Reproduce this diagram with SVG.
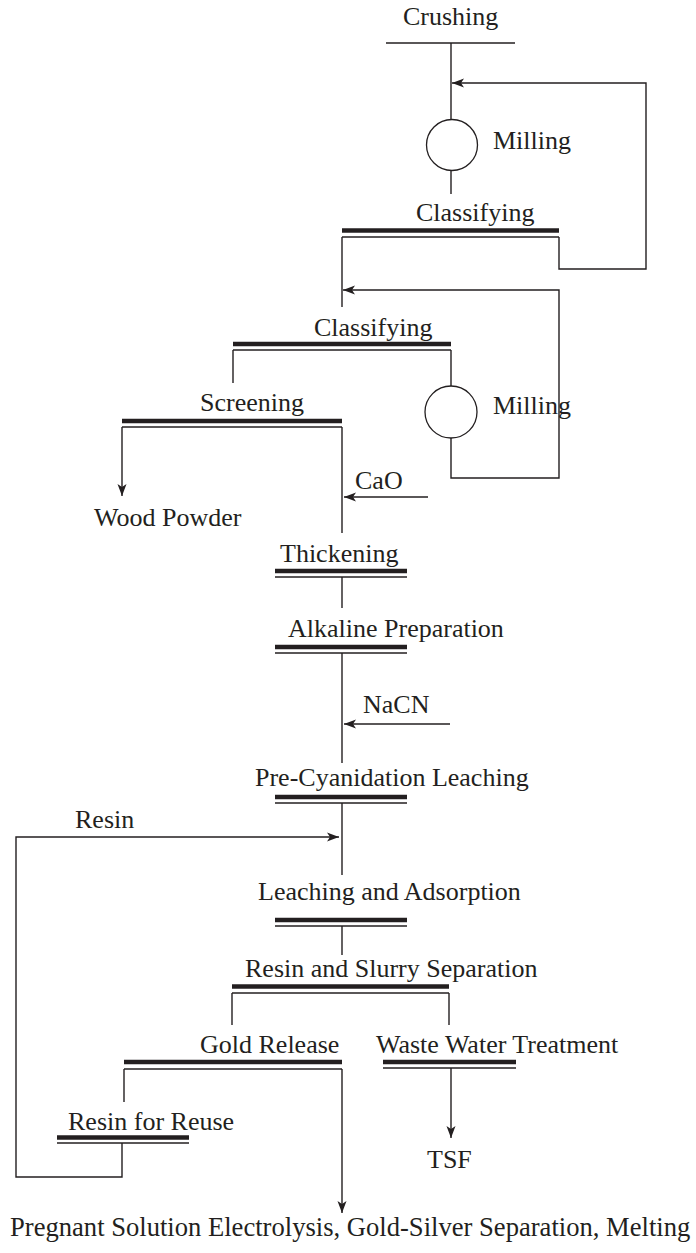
<svg xmlns="http://www.w3.org/2000/svg" width="696" height="1253" viewBox="0 0 696 1253">
<style>
text{font-family:"Liberation Serif","Times New Roman",serif;font-size:26px;fill:#231f20}
.thick{stroke:#231f20;stroke-width:4.5;fill:none}
.thin{stroke:#231f20;stroke-width:1.3;fill:none}
.ln{stroke:#231f20;stroke-width:1.4;fill:none}
.arr{marker-end:url(#ah)}
circle{fill:#fff;stroke:#231f20;stroke-width:1.3}
</style>
<defs>
<marker id="ah" markerUnits="userSpaceOnUse" markerWidth="13" markerHeight="11" refX="12" refY="5.5" orient="auto">
<path d="M0,1 L12,5.5 L0,10 L3,5.5 Z" fill="#231f20"/>
</marker>
</defs>
<rect width="696" height="1253" fill="#fff"/>
<g id="connectors">
<line class="ln" x1="451" y1="43" x2="451" y2="120"/>
<line class="ln" x1="451" y1="171" x2="451" y2="194"/>
<polyline class="ln arr" points="559,237 559,269 646,269 646,83 452,83"/>
<line class="ln" x1="342" y1="237" x2="342" y2="307"/>
<polyline class="ln" points="451,350 451,386"/>
<polyline class="ln arr" points="451,438 451,478 559,478 559,290 343,290"/>
<line class="ln" x1="233" y1="350" x2="233" y2="383"/>
<line class="ln arr" x1="122" y1="427" x2="122" y2="496"/>
<line class="ln" x1="342" y1="427" x2="342" y2="533"/>
<line class="ln arr" x1="428" y1="497" x2="344" y2="497"/>
<line class="ln" x1="342" y1="577" x2="342" y2="608"/>
<line class="ln" x1="342" y1="653" x2="342" y2="763"/>
<line class="ln arr" x1="450" y1="724" x2="344" y2="724"/>
<line class="ln" x1="342" y1="803" x2="342" y2="875"/>
<line class="ln" x1="342" y1="926" x2="342" y2="955"/>
<line class="ln" x1="232" y1="993" x2="232" y2="1025"/>
<line class="ln" x1="449" y1="993" x2="449" y2="1025"/>
<line class="ln arr" x1="451" y1="1068" x2="451" y2="1138"/>
<line class="ln" x1="124" y1="1069" x2="124" y2="1102"/>
<line class="ln arr" x1="342" y1="1069" x2="342" y2="1213"/>
<polyline class="ln arr" points="122,1143 122,1177 16,1177 16,837 339,837"/>
</g>
<g id="crushing">
<text x="403" y="25">Crushing</text>
<line class="thin" x1="386" y1="43" x2="515" y2="43"/>
</g>
<g id="milling1">
<circle cx="452" cy="145" r="25.5"/>
<text x="493" y="149">Milling</text>
</g>
<g id="classifying1">
<text x="416" y="221">Classifying</text>
<line class="thick" x1="342" y1="230.5" x2="559" y2="230.5"/>
<line class="thin" x1="342" y1="237" x2="559" y2="237"/>
</g>
<g id="classifying2">
<text x="314" y="336">Classifying</text>
<line class="thick" x1="233" y1="344" x2="451" y2="344"/>
<line class="thin" x1="233" y1="350" x2="451" y2="350"/>
</g>
<g id="milling2">
<circle cx="451" cy="412" r="26"/>
<text x="493" y="414">Milling</text>
</g>
<g id="screening">
<text x="200" y="411">Screening</text>
<line class="thick" x1="122" y1="421" x2="342" y2="421"/>
<line class="thin" x1="122" y1="427" x2="342" y2="427"/>
</g>
<g id="wood-powder">
<text x="94" y="526">Wood Powder</text>
</g>
<g id="cao">
<text x="355" y="489">CaO</text>
</g>
<g id="thickening">
<text x="280" y="562">Thickening</text>
<line class="thick" x1="275" y1="571" x2="407" y2="571"/>
<line class="thin" x1="275" y1="577" x2="407" y2="577"/>
</g>
<g id="alkaline">
<text x="288" y="637">Alkaline Preparation</text>
<line class="thick" x1="275" y1="647" x2="407" y2="647"/>
<line class="thin" x1="275" y1="653" x2="407" y2="653"/>
</g>
<g id="nacn">
<text x="363" y="713">NaCN</text>
</g>
<g id="pre-cyanidation">
<text x="255" y="786">Pre-Cyanidation Leaching</text>
<line class="thick" x1="275" y1="797" x2="407" y2="797"/>
<line class="thin" x1="275" y1="803" x2="407" y2="803"/>
</g>
<g id="resin-label">
<text x="75" y="828">Resin</text>
</g>
<g id="leaching-adsorption">
<text x="258" y="900">Leaching and Adsorption</text>
<line class="thick" x1="275" y1="920" x2="407" y2="920"/>
<line class="thin" x1="275" y1="926" x2="407" y2="926"/>
</g>
<g id="separation">
<text x="245" y="977">Resin and Slurry Separation</text>
<line class="thick" x1="232" y1="986.5" x2="449" y2="986.5"/>
<line class="thin" x1="232" y1="993" x2="449" y2="993"/>
</g>
<g id="gold-release">
<text x="200" y="1053">Gold Release</text>
<line class="thick" x1="124" y1="1062" x2="342" y2="1062"/>
<line class="thin" x1="124" y1="1069" x2="342" y2="1069"/>
</g>
<g id="waste-water">
<text x="376" y="1053">Waste Water Treatment</text>
<line class="thick" x1="383" y1="1062" x2="516" y2="1062"/>
<line class="thin" x1="383" y1="1068" x2="516" y2="1068"/>
</g>
<g id="resin-reuse">
<text x="68" y="1130">Resin for Reuse</text>
<line class="thick" x1="57" y1="1137.5" x2="189" y2="1137.5"/>
<line class="thin" x1="57" y1="1143" x2="189" y2="1143"/>
</g>
<g id="tsf">
<text x="427" y="1168">TSF</text>
</g>
<g id="final">
<text x="10" y="1236" style="font-size:26.6px">Pregnant Solution Electrolysis, Gold-Silver Separation, Melting</text>
</g>
</svg>
